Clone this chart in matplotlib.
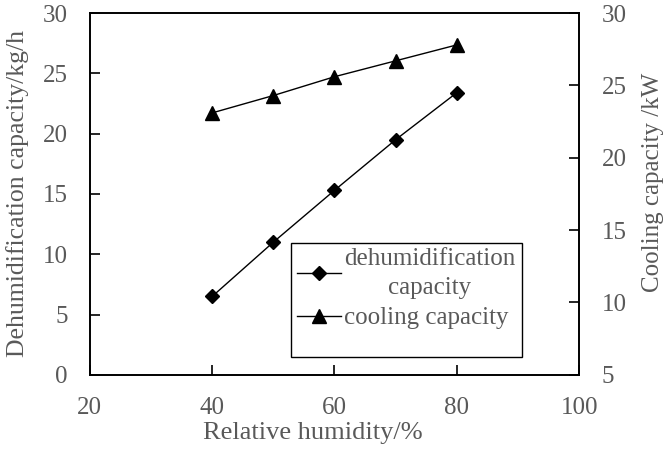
import matplotlib
matplotlib.use("Agg")
import matplotlib.pyplot as plt
from matplotlib.patches import Rectangle

# Data
humidity = [40, 50, 60, 70, 80]
dehumidification = [6.5, 11.0, 15.3, 19.5, 23.4]
cooling = [23.1, 24.3, 25.6, 26.7, 27.8]

x_ticks = [20, 40, 60, 80, 100]
left_ticks = [0, 5, 10, 15, 20, 25, 30]
right_ticks = [5, 10, 15, 20, 25, 30]

grey = "#595959"
plt.rcParams["font.family"] = ["Liberation Serif", "DejaVu Serif"]
plt.rcParams["font.size"] = 18


def style_axis(ax):
    for s in ax.spines.values():
        s.set_color("black")
        s.set_linewidth(1.2)
    ax.tick_params(direction="in", length=7, width=1.2, colors="black",
                   labelcolor=grey, labelsize=18, pad=16)


def main():
    fig = plt.figure(figsize=(6.65, 4.5), dpi=100)
    ax = fig.add_axes([0.135, 0.167, 0.736, 0.804])
    ax2 = ax.twinx()

    l1, = ax.plot(humidity, dehumidification, color="black", lw=1,
                  marker="D", markersize=7)
    l2, = ax2.plot(humidity, cooling, color="black", lw=1,
                   marker="^", markersize=10)

    ax.set_xlim(20, 100)
    ax.set_ylim(0, 30)
    ax2.set_ylim(5, 30)
    ax.set_xticks(x_ticks)
    ax.set_yticks(left_ticks)
    ax2.set_yticks(right_ticks)

    style_axis(ax)
    style_axis(ax2)

    ax.set_xlabel("Relative humidity/%", color=grey, fontsize=19, labelpad=2)
    ax.xaxis.label.set_x(0.456)
    ax.set_ylabel("Dehumidification capacity/kg/h", color=grey, fontsize=18.5,
                  labelpad=10)
    ax2.set_ylabel("Cooling capacity /kW", color=grey, fontsize=18, labelpad=11)
    ax2.yaxis.label.set_y(0.533)

    # legend frame drawn by hand, the entries sit at its top
    box = Rectangle((0.411, 0.05), 0.472, 0.315, transform=ax.transAxes,
                    fill=True, facecolor="white", edgecolor="black", lw=1.0,
                    zorder=5)
    ax2.add_patch(box)
    leg = ax2.legend([l1, l2], ["dehumidification\ncapacity", "cooling capacity"],
                     loc="upper left", bbox_to_anchor=(0.413, 0.365),
                     frameon=False, fontsize=18, handlelength=1.75,
                     handletextpad=0.15, borderpad=0.2, labelspacing=0.3,
                     borderaxespad=0)
    leg.set_zorder(6)
    for t in leg.get_texts():
        t.set_color(grey)
        t.set_multialignment("center")
        t.set_linespacing(1.45)

    fig.savefig("out.png", dpi=100)


if __name__ == "__main__":
    main()
